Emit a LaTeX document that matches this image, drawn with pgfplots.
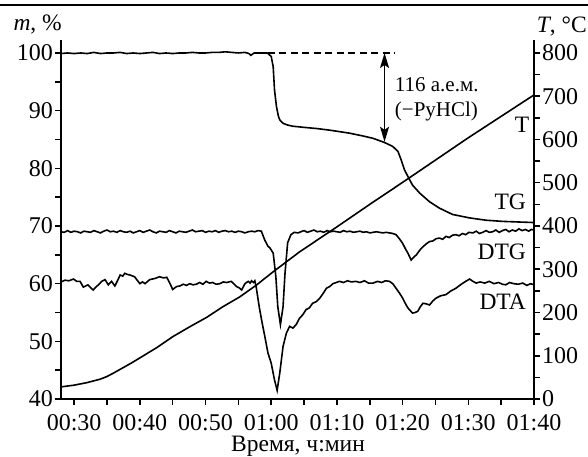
\documentclass[border=0pt]{standalone}
\usepackage{fontspec}
\setmainfont{Liberation Serif}
\usepackage{pgfplots}
\usepackage{pgfplotstable}
\pgfplotsset{compat=1.18}
\usetikzlibrary{arrows.meta}

\newcommand\fs{\fontsize{23.5}{28}\selectfont}
\newcommand\fst{\fontsize{24}{28}\selectfont}
\newcommand\fsm{\fontsize{21}{25}\selectfont}

% time in minutes, mass in %
\pgfplotstableread{
t m
28 99.9
29 100.0
30 99.9
31 100.0
32 99.9
33 100.1
34 99.9
35 100.0
36 100.0
37 100.1
38 99.9
39 100.0
40 99.9
41 100.0
42 100.1
43 99.9
44 100.0
45 99.9
46 100.0
47 100.0
48 100.1
49 100.0
50 100.0
51 100.1
52 100.1
53 100.2
54 100.1
55 100.0
56 100.1
56.6 99.9
56.9 99.6
57.4 100.0
59.4 100.0
60.0 99.4
60.3 97.6
60.5 93.6
60.8 90.7
61.1 89.0
61.3 88.4
61.8 87.8
62.5 87.5
63.3 87.3
65 87.1
66.9 86.9
69 86.6
71.9 86.1
74 85.6
75.5 85.2
77.2 84.5
78.5 83.8
79.3 82.9
79.8 81.4
80.3 79.7
80.8 78.6
81.5 77.1
82.6 75.7
84.1 74.2
85.6 73.1
87.6 72.0
90.2 71.4
92.7 71.0
95.2 70.8
97.5 70.7
100 70.6
}\tgdata

\pgfplotstableread{
t m
28 69.0
28.5 68.9
29 69.2
29.5 68.9
30 69.1
30.5 69.0
31 68.8
31.5 69.1
32 69.0
32.5 68.9
33 69.2
33.5 69.0
34 68.8
34.5 69.1
35 69.3
35.5 69.0
36 69.1
36.5 68.9
37 69.2
37.5 69.0
38 68.9
38.5 69.1
39 68.8
39.5 69.0
40 69.2
40.5 68.9
41 69.1
41.5 69.3
42 69.0
42.5 68.8
43 69.1
43.5 69.0
44 68.9
44.5 69.2
45 69.0
45.5 68.8
46 69.1
46.5 69.0
47 68.9
47.5 69.1
48 69.3
48.5 69.0
49 69.1
49.5 69.2
50 68.9
50.5 69.1
51 69.0
51.5 69.2
52 68.9
52.5 69.1
53 69.2
53.5 69.0
54 69.1
54.5 68.9
55 69.1
55.5 69.0
56 68.8
56.5 69.0
57 69.1
57.5 69.0
58 69.2
58.5 69.1
59.0 67.6
59.5 66.5
59.8 66.2
60.3 65.3
60.7 61.3
61.0 56.0
61.4 52.9
61.8 56.0
62.1 61.8
62.5 67.1
63.0 68.5
63.5 68.9
64.1 68.8
64.5 69.0
65 69.2
65.5 68.9
66 69.1
66.5 69.3
67 69.0
67.5 69.1
68 68.9
68.5 69.2
69 69.0
69.5 69.1
70 69.0
70.5 68.9
71 69.2
71.5 69.0
72 69.1
72.5 68.9
73 69.0
73.5 69.1
74 68.9
74.5 69.0
75 68.8
75.5 68.9
76 69.0
76.5 68.9
77 68.8
77.5 68.9
78 68.8
78.5 68.7
79.0 68.5
79.5 67.8
80.0 67.0
80.4 66.1
80.8 65.3
81.3 64.1
81.7 64.6
82.1 65.0
82.6 65.8
83.1 66.4
83.6 66.9
84.1 67.3
84.6 67.4
85.1 67.8
85.6 67.9
86.1 67.7
86.6 68.2
87.1 68.0
87.6 68.4
88.1 68.5
88.6 68.3
89.1 68.7
89.6 68.5
90.1 68.9
90.7 68.8
91.2 69.1
91.7 68.7
92.2 68.9
92.7 69.2
93.2 68.9
93.7 69.0
94.2 69.3
94.7 68.9
95.2 69.2
95.7 69.4
96.2 69.0
96.7 69.3
97.2 69.1
97.7 69.5
98.2 69.2
98.7 69.4
99.2 69.1
99.6 69.4
100 69.3
}\dtgdata

\pgfplotstableread{
t m
28.0 60.3
28.6 60.6
29.2 60.5
29.9 60.8
30.4 60.4
30.9 60.4
31.4 59.4
32.1 59.8
32.5 59.3
32.9 58.9
33.3 59.4
33.7 59.8
34.2 60.4
34.7 60.7
35.2 59.8
35.7 60.4
36.2 59.6
36.6 60.5
37.0 61.5
37.4 61.3
37.7 61.8
38.1 61.6
38.5 61.5
39.2 61.2
39.6 60.6
40.0 60.0
40.4 60.3
40.8 60.0
41.5 60.7
42.3 60.9
43.0 61.2
43.6 61.0
44.1 61.1
44.6 60.0
45.0 59.0
45.6 59.5
46.1 59.6
46.6 59.9
47.1 59.7
47.6 60.0
48.1 59.8
48.6 59.9
49.1 60.2
49.6 59.9
50.1 60.4
50.6 60.1
51.1 60.2
51.6 59.9
52.2 60.0
52.7 60.3
53.2 60.2
53.9 60.4
54.3 60.0
54.7 59.5
55.1 59.3
55.5 58.9
56.0 60.0
56.5 60.4
56.8 60.1
57.0 60.5
57.3 60.2
57.5 60.5
57.7 59.5
58.2 55.8
58.6 53.3
59.0 51.0
59.5 48.0
60.0 46.2
60.5 43.3
60.9 41.5
61.3 44.5
61.8 49.1
62.3 51.4
62.8 52.6
63.3 52.3
63.8 52.9
64.3 54.0
64.8 54.6
65.3 55.5
65.8 55.8
66.3 56.6
66.9 56.9
67.4 57.5
67.9 58.3
68.4 59.2
68.9 59.5
69.4 60.0
70.4 60.4
71.0 60.2
71.6 60.5
72.2 60.3
72.9 60.4
73.5 60.2
74.2 60.5
74.8 60.1
75.5 60.1
76.2 60.4
76.8 60.2
77.4 60.5
78.0 60.4
78.5 60.0
79.0 59.2
79.5 58.4
80.0 57.5
80.4 56.6
80.8 55.8
81.5 54.9
81.9 55.0
82.3 55.2
82.7 56.0
83.1 56.6
83.6 56.5
84.1 56.3
84.6 57.0
85.1 57.5
85.8 57.9
86.6 58.1
87.3 58.7
88.1 59.2
88.8 59.8
89.6 60.4
90.2 60.8
90.7 60.4
91.2 60.1
91.8 60.3
92.5 60.1
93.2 60.4
93.9 60.0
94.6 60.2
95.2 59.9
95.7 59.8
96.3 60.2
96.9 60.0
97.6 59.9
98.3 60.1
98.9 59.7
99.5 60.0
100 59.8
}\dtadata

% temperature, deg C
\pgfplotstableread{
t T
28 28
30 32
32 38
34 46
35 52
36 60
37.4 72
38.7 83
40 95
42.6 119
45 144
47.6 167
50.2 189
52.6 213
55.2 236
57.8 264
60.2 293
64.3 340
70 398
75 450
80.7 508
90 604
100 703
}\tdata

\pgfplotsset{
  tga/.style={
    scale only axis, width=473pt, height=359pt,
    at={(61pt,57pt)}, anchor=south west,
    xmin=28, xmax=100,
    axis line style={line width=1.8pt},
    tick style={line width=1.5pt, black},
    tick align=outside,
    major tick length=5.5pt, minor tick length=5.5pt,
    tick label style={font=\fst},
    /pgf/number format/assume math mode=true,
  },
  curve/.style={black, line width=1.6pt, no markers},
}

\begin{document}
\begin{tikzpicture}
\path[use as bounding box] (0,0) rectangle (588pt,456pt);
\draw[line width=2.2pt] (0,451pt) -- (588pt,451pt);

\begin{axis}[tga,
  axis x line*=bottom, axis y line*=left,
  ymin=40, ymax=102.25,
  ytick={40,50,...,100}, minor ytick={45,55,...,95},
  xtick={30,40,...,100}, minor xtick={35,45,...,95},
  xticklabels={00:30,00:40,00:50,01:00,01:10,01:20,01:30,01:40},
  x tick label style={anchor=base, yshift=-26pt, inner sep=0pt},
  y tick label style={anchor=east, xshift=1pt},
]
\addplot[curve] table[x=t, y=m] {\tgdata};
\addplot[curve] table[x=t, y=m] {\dtgdata};
\addplot[curve] table[x=t, y=m] {\dtadata};

\draw[line width=1.5pt, dash pattern=on 7pt off 4.5pt] (axis cs:59.5,100) -- (axis cs:78.8,100);
\draw[line width=1.5pt, {Stealth[length=15pt,width=9pt,inset=3pt]}-{Stealth[length=15pt,width=9pt,inset=3pt]}]
  (axis cs:77.25,100) -- (axis cs:77.25,84.6);
\node[anchor=west, font=\fsm, align=left, inner sep=0pt] at (axis cs:78.8,91.9)
  {116 а.е.м.\\(−PyHCl)};

\node[anchor=east, font=\fs, inner sep=0pt] at (axis cs:99.3,87.5) {T};
\node[anchor=east, font=\fs, inner sep=0pt] at (axis cs:98.8,74.2) {TG};
\node[anchor=east, font=\fs, inner sep=0pt] at (axis cs:98.8,65.5) {DTG};
\node[anchor=east, font=\fs, inner sep=0pt] at (axis cs:98.8,56.8) {DTA};
\end{axis}

\begin{axis}[tga,
  axis x line=none, axis y line*=right,
  ymin=0, ymax=830,
  ytick={0,100,...,800}, minor ytick={50,150,...,750},
  y tick label style={anchor=west, xshift=-1pt},
]
\addplot[curve] table[x=t, y=T] {\tdata};
\end{axis}

\node[anchor=base east, font=\fs, inner sep=0pt] at (62pt,425pt) {\textit{m}, \%};
\node[anchor=base east, font=\fs, inner sep=0pt] at (587pt,423pt) {\textit{T}, °C};
\node[anchor=base, font=\fs, inner sep=0pt] at (298pt,4.5pt) {Время, ч:мин};
\end{tikzpicture}
\end{document}
